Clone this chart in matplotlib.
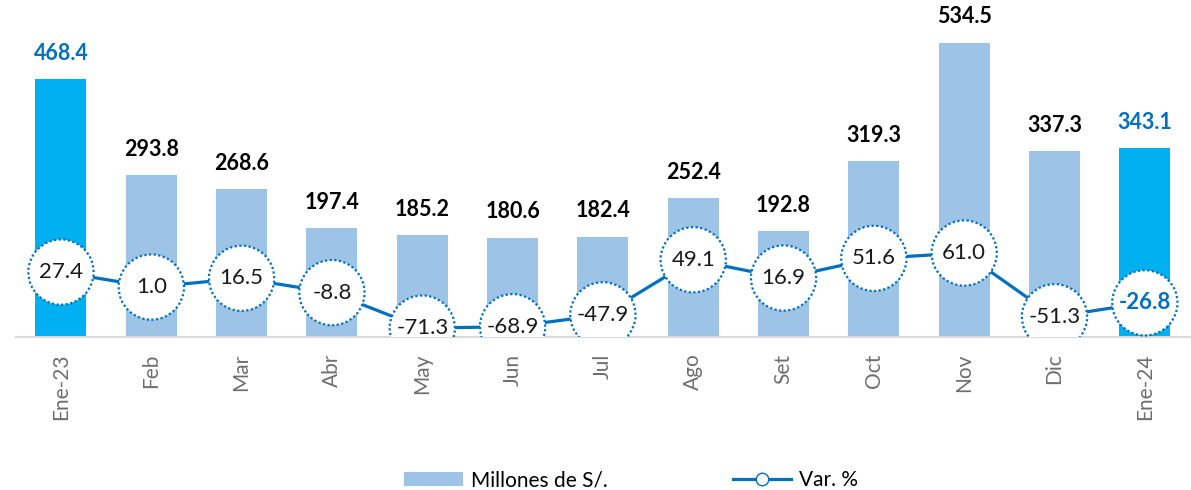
import matplotlib
matplotlib.use("Agg")
import matplotlib.pyplot as plt
from matplotlib.lines import Line2D
from matplotlib.patches import Patch

categories = ["Ene-23", "Feb", "Mar", "Abr", "May", "Jun", "Jul", "Ago", "Set", "Oct", "Nov", "Dic", "Ene-24"]
millones = [468.4, 293.8, 268.6, 197.4, 185.2, 180.6, 182.4, 252.4, 192.8, 319.3, 534.5, 337.3, 343.1]
var_pct = [27.4, 1.0, 16.5, -8.8, -71.3, -68.9, -47.9, 49.1, 16.9, 51.6, 61.0, -51.3, -26.8]
highlight = [True] + [False] * 11 + [True]

plt.rcParams['font.family'] = ['Lato', 'DejaVu Sans']

LIGHT = "#9DC3E6"
BRIGHT = "#00B0F0"
BLUE = "#0070C0"

fig = plt.figure(figsize=(11.91, 4.90), dpi=100)
ax = fig.add_axes([15.8 / 1191, 1 - 337 / 490, (1190 - 15.8) / 1191, 337 / 490])
x = list(range(len(categories)))
colors = [BRIGHT if h else LIGHT for h in highlight]
ax.bar(x, millones, width=0.565, color=colors, zorder=1)
ax.set_xlim(-0.5, len(categories) - 0.5)
ax.set_ylim(0, 612)
for i, v in enumerate(millones):
    ax.annotate(f"{v:.1f}", (i, v), xytext=(0, 11), textcoords="offset points",
                ha="center", va="bottom", fontsize=15.5, fontweight="bold",
                color=BLUE if highlight[i] else "black")

for s in ["top", "right", "left"]:
    ax.spines[s].set_visible(False)
ax.spines["bottom"].set_color("#D9D9D9")
ax.spines["bottom"].set_linewidth(1.5)
ax.set_yticks([])
ax.set_xticks(x)
ax.set_xticklabels(categories, rotation=90, fontsize=15, color="#6E6E6E")
ax.tick_params(axis="x", length=0, pad=12)

ax2 = ax.twinx()
ax2.set_ylim(-87, 507)
ax2.set_yticks([])
for s in ax2.spines.values():
    s.set_visible(False)
ax2.plot(x, var_pct, color=BLUE, linewidth=2.3, zorder=2)
ax2.scatter(x, var_pct, s=47 ** 2, facecolor="white", edgecolor=BLUE,
            linewidths=1.6, linestyle=(0, (1, 1.1)), zorder=3)
for i, v in enumerate(var_pct):
    last = i == len(var_pct) - 1
    ax2.text(i, v, f"{v:.1f}", ha="center", va="center", fontsize=16,
             fontweight="bold" if last else "normal",
             color=BLUE if last else "#1a1a1a", zorder=4)

handles = [Patch(facecolor=LIGHT, edgecolor="none"),
           Line2D([0], [0], color=BLUE, linewidth=2.3, marker="o", markersize=9,
                  markerfacecolor="white", markeredgecolor=BLUE, markeredgewidth=1)]
fig.legend(handles, ["Millones de S/.", "Var. %"], loc="center", bbox_to_anchor=(0.53, 0.02),
           ncol=2, frameon=False, fontsize=15, columnspacing=6, handlelength=2.8,
           handletextpad=0.4)

fig.savefig("out.png", dpi=100)
